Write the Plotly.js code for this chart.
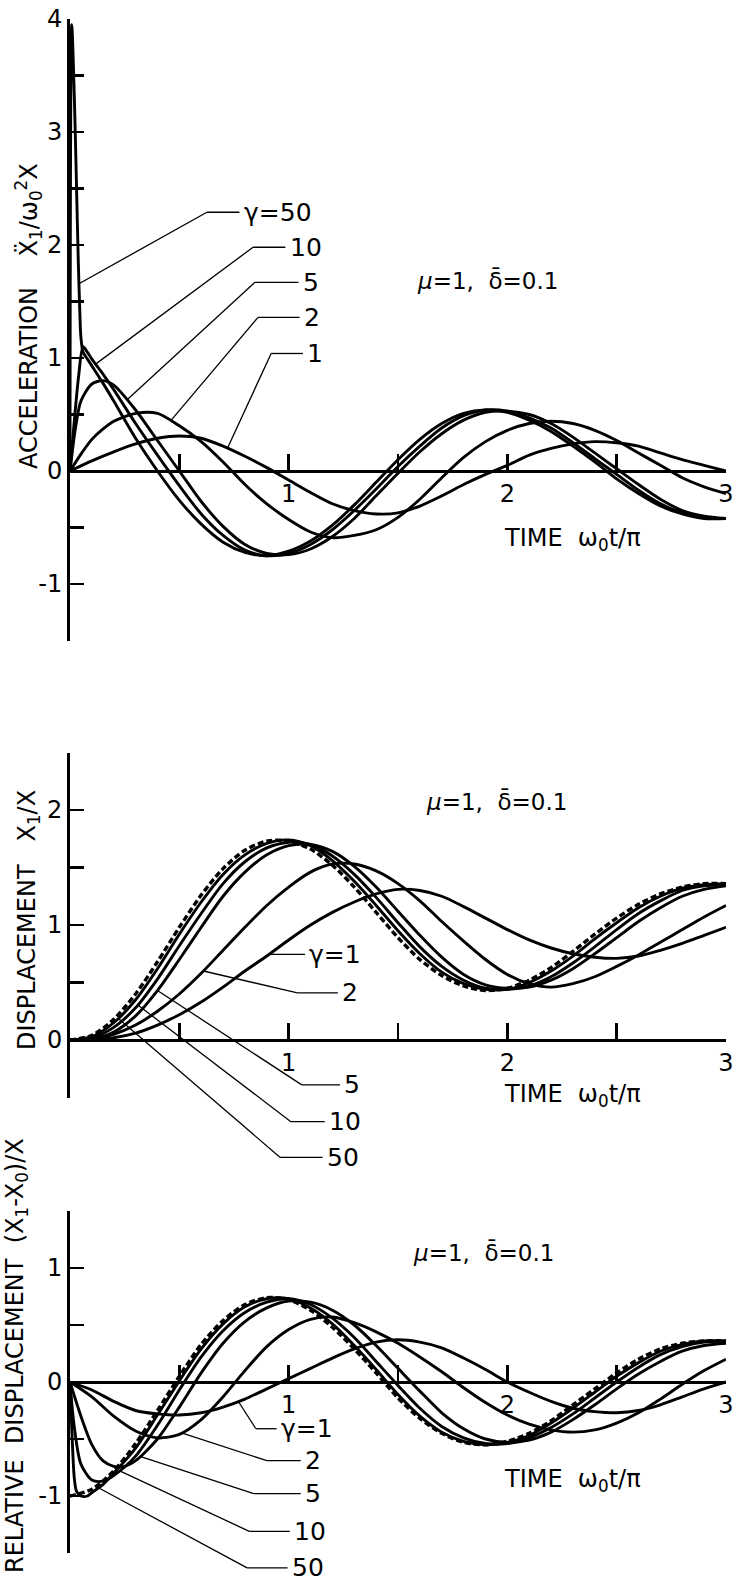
<!DOCTYPE html>
<html><head><meta charset="utf-8">
<script src="https://cdn.plot.ly/plotly-3.0.1.min.js"></script>
<style>html,body{margin:0;padding:0;background:#fff}#chart{width:737px;height:1595px}</style>
</head><body><div id="chart"></div>
<script>
// ---------- shared time grid (omega0 t / pi) ----------
const T = [0,0.1,0.2,0.3,0.4,0.5,0.6,0.7,0.8,0.9,1.0,1.1,1.2,1.3,1.4,1.5,1.6,1.7,1.8,1.9,2.0,2.1,2.2,2.3,2.4,2.5,2.6,2.7,2.8,2.9,3.0];
const T3 = T.slice(3);   // 0.3 .. 3.0
const T4 = T.slice(4);   // 0.4 .. 3.0

// ---------- Panel 1: acceleration ----------
const accT_g1 = T;
const acc_g1 = [0,0.09,0.17,0.24,0.29,0.31,0.29,0.22,0.13,0.03,-0.08,-0.19,-0.29,-0.35,-0.38,-0.37,-0.31,-0.22,-0.12,-0.03,0.05,0.14,0.20,0.24,0.26,0.25,0.22,0.16,0.10,0.05,0.0];
const accT_g2 = [0,0.05,0.1,0.15,0.2].concat(T3);
const acc_g2 = [0,0.15,0.28,0.37,0.44,0.51,0.51,0.40,0.26,0.08,-0.12,-0.29,-0.43,-0.54,-0.59,-0.57,-0.52,-0.41,-0.25,-0.06,0.12,0.26,0.36,0.42,0.44,0.42,0.36,0.27,0.16,0.05,-0.06,-0.14,-0.20];
const accT_g5 = [0,0.025,0.05,0.1,0.15,0.2].concat(T3);
const acc_g5 = [0,0.38,0.62,0.77,0.80,0.76,0.54,0.27,0.0,-0.27,-0.49,-0.65,-0.73,-0.74,-0.69,-0.58,-0.42,-0.22,-0.02,0.17,0.33,0.45,0.52,0.53,0.50,0.42,0.30,0.16,0.02,-0.12,-0.25,-0.35,-0.40,-0.42];
const accT_g10 = [0,0.02,0.04,0.06,0.08,0.1,0.15,0.2].concat(T3);
const acc_g10 = [0,0.45,0.85,1.10,1.05,0.99,0.86,0.72,0.42,0.14,-0.13,-0.38,-0.57,-0.70,-0.75,-0.73,-0.65,-0.52,-0.35,-0.16,0.04,0.22,0.38,0.49,0.54,0.53,0.47,0.38,0.25,0.11,-0.03,-0.17,-0.29,-0.37,-0.41,-0.42];
const accT_g50 = [0,0.008,0.02,0.03,0.038,0.045,0.05,0.06,0.08,0.1,0.15,0.2].concat(T3);
const acc_g50 = [0,3.95,3.3,2.5,1.85,1.4,1.18,1.05,0.99,0.93,0.78,0.62,0.29,0.0,-0.26,-0.47,-0.63,-0.72,-0.75,-0.71,-0.62,-0.48,-0.30,-0.10,0.10,0.28,0.42,0.51,0.54,0.52,0.45,0.35,0.22,0.08,-0.07,-0.20,-0.31,-0.38,-0.42,-0.42];

// ---------- Panel 2: displacement ----------
const disp_inf = [0,0.04,0.18,0.40,0.68,0.98,1.26,1.49,1.65,1.73,1.73,1.66,1.52,1.33,1.11,0.89,0.70,0.56,0.47,0.43,0.45,0.52,0.63,0.77,0.92,1.06,1.18,1.27,1.33,1.36,1.36];
const disp_g50 = [0,0.03,0.15,0.35,0.62,0.92,1.20,1.44,1.61,1.71,1.74,1.69,1.56,1.38,1.17,0.95,0.75,0.59,0.49,0.44,0.44,0.50,0.60,0.73,0.88,1.02,1.15,1.25,1.32,1.35,1.36];
const disp_g10 = [0,0.02,0.11,0.28,0.53,0.82,1.10,1.36,1.55,1.67,1.72,1.70,1.60,1.44,1.24,1.02,0.81,0.64,0.52,0.45,0.44,0.47,0.55,0.67,0.81,0.96,1.10,1.21,1.30,1.34,1.35];
const disp_g5 = [0,0.01,0.07,0.21,0.43,0.70,0.98,1.25,1.46,1.61,1.69,1.70,1.64,1.51,1.33,1.12,0.91,0.72,0.57,0.48,0.45,0.46,0.52,0.62,0.75,0.89,1.03,1.15,1.25,1.31,1.34];
const disp_g2 = [0,0.01,0.05,0.13,0.25,0.40,0.58,0.78,0.98,1.17,1.33,1.46,1.53,1.53,1.47,1.36,1.21,1.03,0.86,0.70,0.57,0.49,0.46,0.49,0.55,0.64,0.74,0.85,0.96,1.07,1.17];
const disp_g1 = [0,0.005,0.02,0.06,0.13,0.22,0.33,0.46,0.60,0.73,0.87,1.00,1.11,1.20,1.27,1.31,1.30,1.25,1.16,1.06,0.96,0.87,0.80,0.75,0.72,0.71,0.73,0.78,0.84,0.91,0.98];

// ---------- Panel 3: relative displacement ----------
const rel_inf = [-1,-0.94,-0.78,-0.54,-0.25,0.05,0.33,0.54,0.68,0.74,0.72,0.63,0.48,0.29,0.08,-0.14,-0.32,-0.45,-0.53,-0.55,-0.52,-0.45,-0.34,-0.20,-0.06,0.08,0.20,0.29,0.34,0.36,0.36];
const relT_g50 = [0,0.01,0.02,0.03,0.05,0.08,0.1,0.15,0.2].concat(T3);
const rel_g50 = [0,-0.5,-0.85,-0.96,-1.0,-1.0,-0.97,-0.90,-0.80,-0.58,-0.29,0.01,0.29,0.51,0.66,0.73,0.73,0.65,0.51,0.32,0.11,-0.11,-0.30,-0.44,-0.52,-0.55,-0.53,-0.47,-0.36,-0.23,-0.09,0.05,0.17,0.27,0.33,0.36,0.36];
const relT_g10 = [0,0.02,0.05,0.1,0.15,0.2].concat(T3);
const rel_g10 = [0,-0.40,-0.72,-0.86,-0.87,-0.82,-0.65,-0.38,-0.07,0.22,0.45,0.61,0.70,0.73,0.68,0.56,0.39,0.18,-0.03,-0.23,-0.39,-0.49,-0.54,-0.54,-0.49,-0.40,-0.28,-0.14,0.00,0.13,0.24,0.31,0.35,0.36];
const relT_g5 = [0,0.05,0.1,0.15,0.2,0.25,0.3].concat(T4);
const rel_g5 = [0,-0.30,-0.55,-0.69,-0.74,-0.74,-0.69,-0.50,-0.22,0.08,0.34,0.53,0.65,0.71,0.70,0.63,0.50,0.32,0.12,-0.08,-0.27,-0.41,-0.50,-0.53,-0.51,-0.44,-0.33,-0.20,-0.06,0.07,0.18,0.27,0.32,0.34];
const rel_g2 = [0,-0.13,-0.30,-0.43,-0.49,-0.46,-0.33,-0.13,0.10,0.31,0.46,0.55,0.57,0.52,0.44,0.34,0.22,0.09,-0.05,-0.18,-0.29,-0.37,-0.42,-0.44,-0.42,-0.36,-0.27,-0.15,-0.02,0.10,0.20];
const rel_g1 = [0,-0.07,-0.17,-0.25,-0.28,-0.29,-0.27,-0.22,-0.15,-0.06,0.03,0.12,0.21,0.29,0.35,0.37,0.35,0.30,0.21,0.11,0.0,-0.09,-0.17,-0.23,-0.26,-0.27,-0.25,-0.20,-0.13,-0.06,0.0];

// ---------- ticks ----------
const xTickVals = [1,2,3];
const xTickText = ['1','2','3'];
const xMinorVals = [0.5,1.5,2.5];
const accYTickVals = [-1,0,1,2,3,4];
const accYTickText = ['-1','0','1','2','3','4'];
const accYMinorVals = [-1.5,-0.5,0.5,1.5,2.5,3.5];
const dispYTickVals = [0,1,2];
const dispYTickText = ['0','1','2'];
const dispYMinorVals = [-0.5,0.5,1.5,2.5];
const relYTickVals = [-1,0,1];
const relYTickText = ['-1','0','1'];
const relYMinorVals = [-1.5,-0.5,0.5,1.5];

// ---------- text ----------
const paramText = '<i>μ</i>=1,\u00A0 δ\u0304=0.1';
const timeText = 'TIME\u00A0 ω<sub>0</sub>t/π';
const accTitle = 'ACCELERATION\u00A0\u00A0\u00A0\u00A0X\u0308<sub>1</sub>/ω<sub>0</sub><sup>2</sup>X';
const dispTitle = 'DISPLACEMENT\u00A0\u00A0\u00A0X<sub>1</sub>/X';
const relTitle = 'RELATIVE\u00A0\u00A0DISPLACEMENT\u00A0\u00A0(X<sub>1</sub>-X<sub>0</sub>)/X';

// ---------- geometry ----------
const W = 737, H = 1595, ML = 70, MR = 11;
const FONT = 'DejaVu Sans, Liberation Sans, sans-serif';
function dom(top, bot){ return [1 - bot/H, 1 - top/H]; }
const D1 = dom(19, 640.5), R1 = [-1.5, 4];
const D2 = dom(752.5, 1097.5), R2 = [-0.5, 2.5];
const D3 = dom(1211, 1553), R3 = [-1.5, 1.5];
const XR = [0, 3];
function zeroPos(d, r){ return d[0] + (0 - r[0])/(r[1]-r[0])*(d[1]-d[0]); }
function px2paperX(px){ return (px - ML)/(W - ML - MR); }
function px2paperY(py){ return 1 - py/H; }
function dataToPaperX(x){ return (x - XR[0])/(XR[1]-XR[0]); }
function dataToPaperY(d, r, y){ return d[0] + (y - r[0])/(r[1]-r[0])*(d[1]-d[0]); }

function interp(xs, ys, x){
  for (let i = 1; i < xs.length; i++){
    if (x <= xs[i]){ const f = (x - xs[i-1])/(xs[i]-xs[i-1]); return ys[i-1] + f*(ys[i]-ys[i-1]); }
  }
  return ys[ys.length-1];
}

const traces = [];
function curve(xs, ys, xa, ya, dash){
  traces.push({x: xs, y: ys, xaxis: xa, yaxis: ya, mode: 'lines', hoverinfo: 'skip', showlegend: false,
    line: {color: '#000', width: dash ? 3.4 : 2.9, shape: 'spline', smoothing: 0.8, dash: dash ? '6px,3px' : 'solid'}});
}
curve(accT_g1, acc_g1, 'x', 'y');
curve(accT_g2, acc_g2, 'x', 'y');
curve(accT_g5, acc_g5, 'x', 'y');
curve(accT_g10, acc_g10, 'x', 'y');
curve(accT_g50, acc_g50, 'x', 'y');

curve(T, disp_inf, 'x2', 'y2', true);
curve(T, disp_g50, 'x2', 'y2');
curve(T, disp_g10, 'x2', 'y2');
curve(T, disp_g5, 'x2', 'y2');
curve(T, disp_g2, 'x2', 'y2');
curve(T, disp_g1, 'x2', 'y2');

curve(T, rel_inf, 'x3', 'y3', true);
curve(relT_g50, rel_g50, 'x3', 'y3');
curve(relT_g10, rel_g10, 'x3', 'y3');
curve(relT_g5, rel_g5, 'x3', 'y3');
curve(T, rel_g2, 'x3', 'y3');
curve(T, rel_g1, 'x3', 'y3');

// ---------- labels with leader lines (curve x, elbow x/y, text x), in data units ----------
const accLeaders = [
  {text:'γ=50', xs:accT_g50, ys:acc_g50, cx:0.041, ex:0.626, ey:2.29, tx:0.79},
  {text:'10',   xs:accT_g10, ys:acc_g10, cx:0.117, ex:0.837, ey:1.98, tx:1.0},
  {text:'5',    xs:accT_g5,  ys:acc_g5,  cx:0.26,  ex:0.846, ey:1.67, tx:1.06},
  {text:'2',    xs:accT_g2,  ys:acc_g2,  cx:0.46,  ex:0.86,  ey:1.36, tx:1.065},
  {text:'1',    xs:accT_g1,  ys:acc_g1,  cx:0.72,  ex:0.92,  ey:1.04, tx:1.08}
];
const dispLeaders = [
  {text:'γ=1', xs:T, ys:disp_g1,  cx:0.91, ex:null, ey:null, tx:1.09},
  {text:'2',   xs:T, ys:disp_g2,  cx:0.61, ex:1.04, ey:0.41,  tx:1.24},
  {text:'5',   xs:T, ys:disp_g5,  cx:0.40, ex:1.06, ey:-0.39, tx:1.25},
  {text:'10',  xs:T, ys:disp_g10, cx:0.31, ex:1.01, ey:-0.71, tx:1.18},
  {text:'50',  xs:T, ys:disp_g50, cx:0.22, ex:0.96, ey:-1.02, tx:1.17}
];
const relLeaders = [
  {text:'γ=1', xs:T,        ys:rel_g1,  cx:0.77,  ex:0.85, ey:-0.41, tx:0.96},
  {text:'2',   xs:T,        ys:rel_g2,  cx:0.51,  ex:0.90, ey:-0.69, tx:1.07},
  {text:'5',   xs:relT_g5,  ys:rel_g5,  cx:0.32,  ex:0.84, ey:-0.98, tx:1.07},
  {text:'10',  xs:relT_g10, ys:rel_g10, cx:0.225, ex:0.82, ey:-1.31, tx:1.02},
  {text:'50',  xs:relT_g50, ys:rel_g50, cx:0.13,  ex:0.81, ey:-1.63, tx:1.01}
];

const labelFont = {family: FONT, size: 25, color: '#000'};
const annotations = [];
const shapes = [];
function seg(x0, y0, x1, y1){
  shapes.push({type: 'line', xref: 'paper', yref: 'paper', x0: x0, y0: y0, x1: x1, y1: y1, line: {color: '#000', width: 1.3}});
}
function leaders(list, d, r){
  list.forEach(L => {
    const cy = interp(L.xs, L.ys, L.cx);
    const ex = (L.ex === null) ? L.cx : L.ex;
    const ey = (L.ey === null) ? cy : L.ey;
    const pcx = dataToPaperX(L.cx), pcy = dataToPaperY(d, r, cy);
    const pex = dataToPaperX(ex), pey = dataToPaperY(d, r, ey);
    const ptx = dataToPaperX(L.tx - 0.015);
    if (L.ex !== null) seg(pcx, pcy, pex, pey);
    seg(pex, pey, ptx, pey);
    annotations.push({xref: 'paper', yref: 'paper', x: dataToPaperX(L.tx), y: pey, text: L.text, showarrow: false,
      xanchor: 'left', yanchor: 'middle', borderpad: 0, font: labelFont});
  });
}
leaders(accLeaders, D1, R1);
leaders(dispLeaders, D2, R2);
leaders(relLeaders, D3, R3);

function note(text, d, r, x, y, size){
  annotations.push({xref: 'paper', yref: 'paper', x: dataToPaperX(x), y: dataToPaperY(d, r, y), text: text, showarrow: false,
    font: {family: FONT, size: size, color: '#000'}, xanchor: 'center', yanchor: 'middle'});
}
note(paramText, D1, R1, 1.91, 1.69, 23);
note(timeText, D1, R1, 2.30, -0.61, 24);
note(paramText, D2, R2, 1.95, 2.07, 23);
note(timeText, D2, R2, 2.30, -0.48, 24);
note(paramText, D3, R3, 1.89, 1.14, 23);
note(timeText, D3, R3, 2.30, -0.86, 24);

function ytitle(text, px, py){
  annotations.push({xref: 'paper', yref: 'paper', x: px2paperX(px), y: px2paperY(py), text: text, textangle: -90,
    showarrow: false, font: {family: FONT, size: 24, color: '#000'}, xanchor: 'center', yanchor: 'middle'});
}
ytitle(accTitle, 28, 316);
ytitle(dispTitle, 28, 920);
ytitle(relTitle, 16, 1356);

const tickFont = {family: FONT, size: 24, color: '#000'};
function xAxis(d, r){
  return {domain: [0, 1], range: XR, anchor: 'free', position: zeroPos(d, r), showline: true, linewidth: 3, linecolor: '#000',
    ticks: 'inside', ticklen: 16, tickwidth: 2.5, tickcolor: '#000', tickmode: 'array', tickvals: xTickVals, ticktext: xTickText,
    minor: {tickmode: 'array', tickvals: xMinorVals, ticks: 'inside', ticklen: 16, tickwidth: 2.5, tickcolor: '#000', showgrid: false},
    showgrid: false, zeroline: false, tickfont: tickFont, fixedrange: true};
}
function yAxis(d, r, vals, txt, minorVals, anchor){
  return {domain: d, range: r, anchor: anchor, showline: true, linewidth: 3, linecolor: '#000',
    ticks: 'inside', ticklen: 14, tickwidth: 2.5, tickcolor: '#000', tickmode: 'array', tickvals: vals, ticktext: txt,
    minor: {tickmode: 'array', tickvals: minorVals, ticks: 'inside', ticklen: 14, tickwidth: 2.5, tickcolor: '#000', showgrid: false},
    showgrid: false, zeroline: false, tickfont: tickFont, fixedrange: true};
}

const layout = {
  width: W, height: H, margin: {l: ML, r: MR, t: 0, b: 0}, paper_bgcolor: '#fff', plot_bgcolor: 'rgba(0,0,0,0)',
  showlegend: false, font: {family: FONT, color: '#000'},
  xaxis: xAxis(D1, R1), yaxis: yAxis(D1, R1, accYTickVals, accYTickText, accYMinorVals, 'x'),
  xaxis2: xAxis(D2, R2), yaxis2: yAxis(D2, R2, dispYTickVals, dispYTickText, dispYMinorVals, 'x2'),
  xaxis3: xAxis(D3, R3), yaxis3: yAxis(D3, R3, relYTickVals, relYTickText, relYMinorVals, 'x3'),
  annotations: annotations, shapes: shapes
};

Plotly.newPlot('chart', traces, layout, {staticPlot: true, displayModeBar: false});
</script></body></html>
